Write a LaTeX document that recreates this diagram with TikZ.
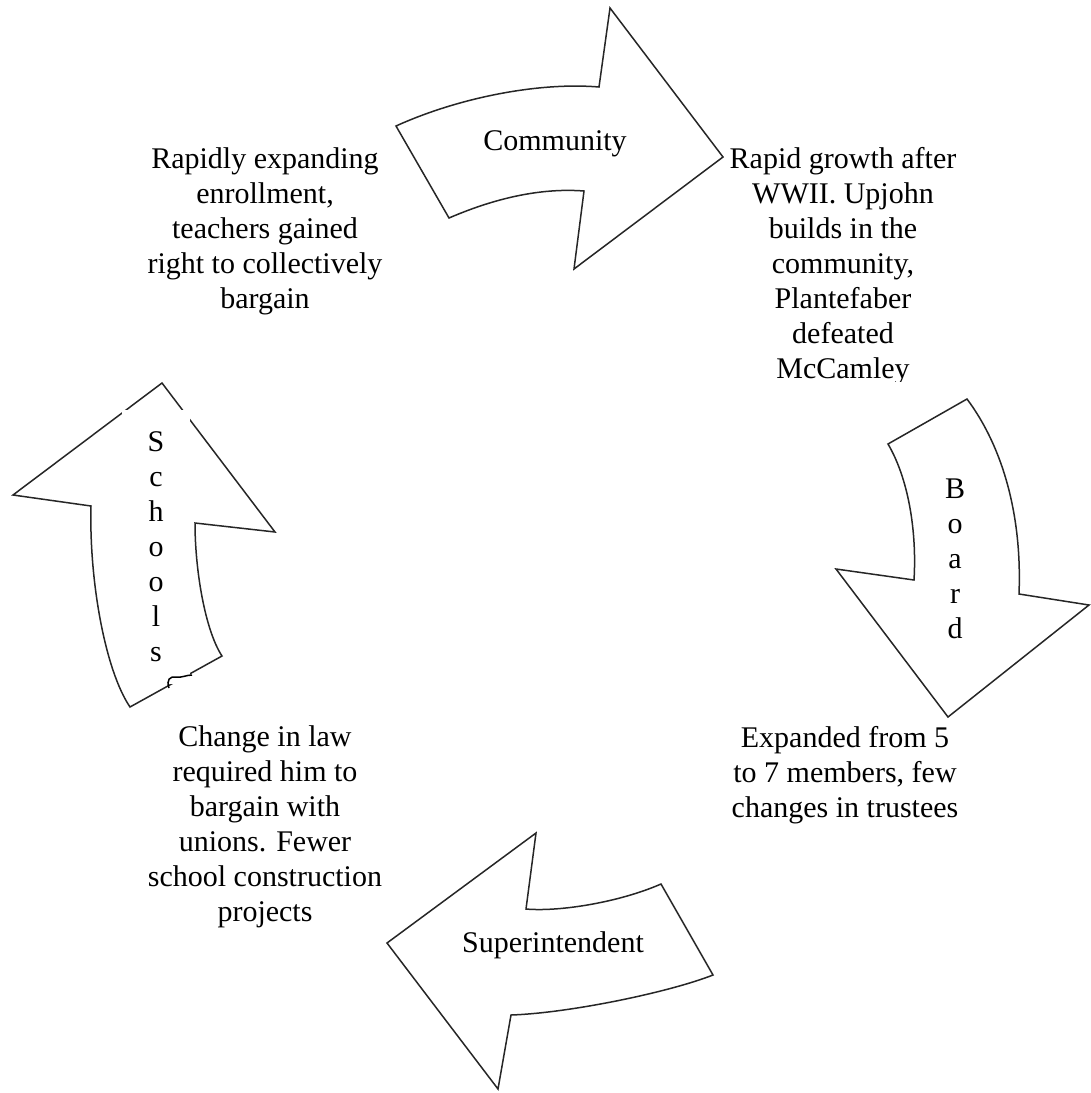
\documentclass[tikz,border=0pt]{standalone}
\usepackage{fontspec}
\setmainfont{Liberation Serif}
\usepackage{tikz}
\usetikzlibrary{positioning}

\begin{document}
\begin{tikzpicture}
             %% setup
             [
                 x=0.5pt, y=-0.5pt,
                 bigarrow/.style={draw=black!85, line width=0.75pt, fill=white, line join=miter},
                 notetext/.style={align=center, inner sep=0pt, font=\fontsize{15pt}{17.5pt}\selectfont},
                 arrowlabel/.style={align=center, inner sep=0pt, font=\fontsize{15pt}{17.5pt}\selectfont},
             ]
                 \useasboundingbox (0,0) rectangle (1091,1093);

                 %% Arrows
                 \draw[bigarrow] (396,126) .. controls (460,97) and (540,82) .. (599,87) -- (610,8) -- (723,157) -- (574,269) -- (584,191) .. controls (545,188) and (500,196) .. (449,218) -- cycle;
                 \draw[bigarrow] (888,444) -- (967,399) .. controls (1005,450) and (1022,520) .. (1019,594) -- (1089,605) -- (948,717) -- (836,569) -- (914,580) .. controls (917,530) and (908,478) .. (888,444) -- cycle;
                 \draw[bigarrow] (387,943) -- (536,833) -- (526,909) .. controls (560,912) and (620,902) .. (661,884) -- (713,975) .. controls (670,992) and (570,1013) .. (511,1015) -- (498,1089) -- cycle;
                 \draw[bigarrow] (162,383) -- (13,495) -- (91,506) .. controls (89,580) and (105,670) .. (130,707) -- (222,656) .. controls (205,630) and (195,570) .. (195,523) -- (275,532) -- cycle;

                 %% Arrow labels
                 \node [arrowlabel] (community) at (555,144) {Community};
                 \node [arrowlabel] (board) at (955,559) {B\\o\\a\\r\\d};
                 \node [arrowlabel] (superintendent) at (553,945) {Superintendent};
                 \node [arrowlabel, fill=white, minimum width=34pt, minimum height=137pt] (schools) at (156,547) {S\\c\\h\\o\\o\\l\\s};
                 \draw[black, line width=0.75pt] (169,688) .. controls (166,680) and (170,676) .. (176,677) .. controls (182,678) and (186,675) .. (192,675);

                 %% Notes
                 \node [notetext] (schoolnote) at (265,231) {Rapidly expanding\\enrollment,\\teachers gained\\right to collectively\\bargain};
                 \begin{scope}
                     \clip (700,120) rectangle (1000,381);
                     \node [notetext] (communitynote) at (843,266) {Rapid growth after\\WWII. Upjohn\\builds in the\\community,\\Plantefaber\\defeated\\McCamley};
                 \end{scope}
                 \node [notetext] (boardnote) at (845,775) {Expanded from 5\\to 7 members, few\\changes in trustees};
                 \node [notetext] (supernote) at (265,827) {Change in law\\required him to\\bargain with\\unions. Fewer\\school construction\\projects};

\end{tikzpicture}
\end{document}
